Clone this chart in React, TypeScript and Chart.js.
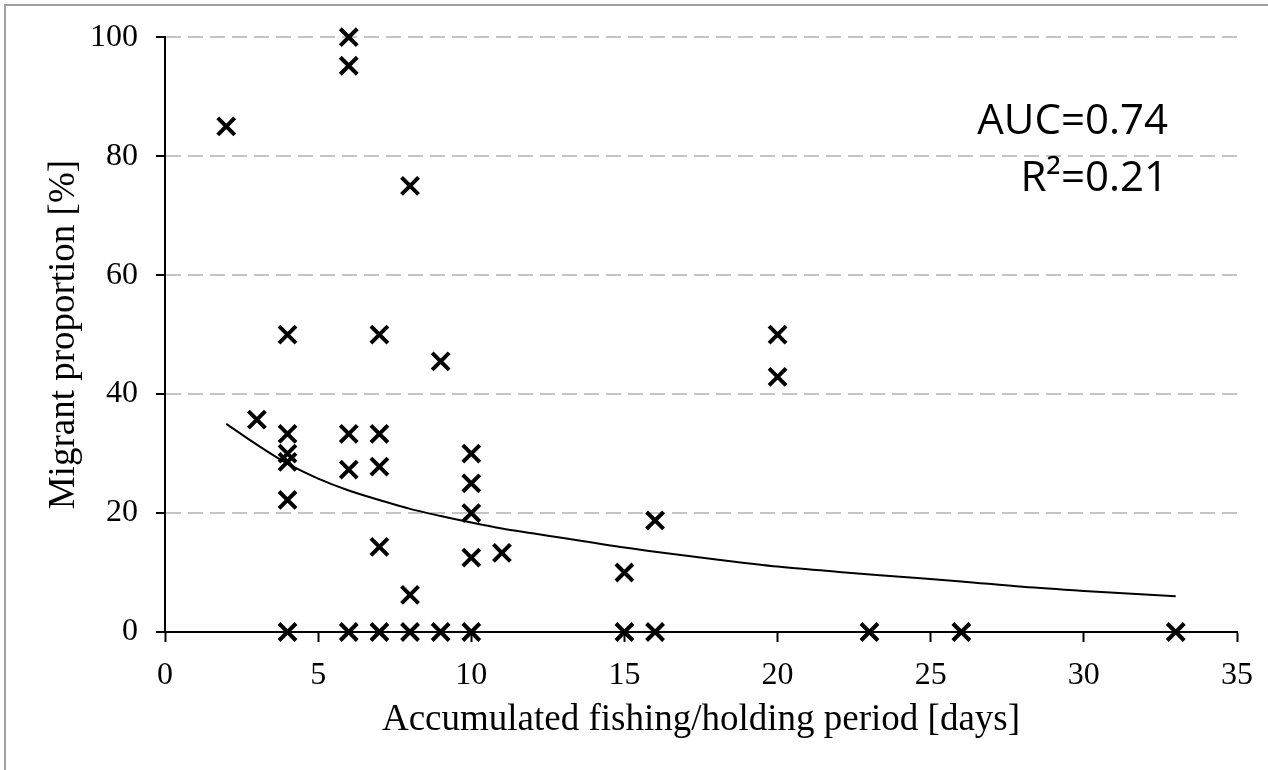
import { useEffect, useRef } from "react";
import { Chart, registerables } from "chart.js";

Chart.register(...registerables);

// ---- data ----
const xTickValues = [0, 5, 10, 15, 20, 25, 30, 35];
const yTickValues = [0, 20, 40, 60, 80, 100];

const obsDays = [
  2, 3, 4, 4, 4, 4, 4, 4, 6, 6, 6, 6, 6, 7, 7, 7, 7, 7, 8, 8, 8, 9, 9, 10, 10, 10, 10, 10, 11, 15, 15,
  16, 16, 20, 20, 23, 26, 33,
];
const obsMigrant = [
  85, 35.7, 50, 33.3, 30, 28.6, 22.2, 0, 100, 95.2, 33.3, 27.3, 0, 50, 33.3, 27.8, 14.3, 0, 75, 6.25, 0,
  45.5, 0, 30, 25, 20, 12.5, 0, 13.3, 10, 0, 18.75, 0, 50, 42.9, 0, 0, 0,
];

const fitDays = [2, 3, 4, 5, 6, 7, 8, 9, 10, 11, 12, 13, 14, 15, 16, 18, 20, 22, 24, 26, 28, 30, 33];
const fitMigrant = [
  35, 31.5, 28.3, 25.8, 23.8, 22.2, 20.7, 19.5, 18.4, 17.4, 16.6, 15.8, 15.0, 14.2, 13.5, 12.2, 11.0,
  10.1, 9.3, 8.5, 7.6, 6.9, 6.0,
];

const statLines = ["AUC=0.74", "R\u00B2=0.21"];
const xTitle = "Accumulated fishing/holding period [days]";
const yTitle = "Migrant proportion [%]";

const SERIF = '"Liberation Serif", "Times New Roman", serif';
const SANS = '"Open Sans", "Noto Sans", sans-serif';

const framePlugin = {
  id: "frame",
  beforeDraw(chart: any) {
    const ctx = chart.ctx;
    ctx.save();
    ctx.fillStyle = "#ffffff";
    ctx.fillRect(0, 0, chart.width, chart.height);
    ctx.strokeStyle = "#a0a0a0";
    ctx.lineWidth = 2;
    ctx.beginPath();
    ctx.moveTo(5, chart.height);
    ctx.lineTo(5, 5);
    ctx.lineTo(chart.width, 5);
    ctx.stroke();
    ctx.restore();
  },
  afterDraw(chart: any) {
    const ctx = chart.ctx;
    ctx.save();
    ctx.fillStyle = "#000000";
    ctx.font = `42px ${SANS}`;
    ctx.textAlign = "right";
    ctx.textBaseline = "alphabetic";
    const x = 1168;
    const baselines = [134, 191];
    statLines.forEach((t, i) => ctx.fillText(t, x, baselines[i]));
    ctx.restore();
  },
};

export default function App() {
  const ref = useRef<HTMLCanvasElement | null>(null);

  useEffect(() => {
    if (!ref.current) return;
    const chart = new Chart(ref.current, {
      type: "scatter",
      data: {
        datasets: [
          {
            label: "Observed",
            data: obsDays.map((d, i) => ({ x: d, y: obsMigrant[i] })),
            pointStyle: "crossRot",
            pointRadius: 12,
            pointHoverRadius: 12,
            borderColor: "#000000",
            backgroundColor: "#000000",
            pointBorderWidth: 4,
            borderWidth: 4,
            showLine: false,
            clip: false,
          } as any,
          {
            label: "Fit",
            data: fitDays.map((d, i) => ({ x: d, y: fitMigrant[i] })),
            showLine: true,
            pointRadius: 0,
            pointHoverRadius: 0,
            borderColor: "#000000",
            borderWidth: 2,
            cubicInterpolationMode: "monotone",
            fill: false,
          } as any,
        ],
      },
      options: {
        responsive: false,
        animation: false,
        events: [],
        layout: { padding: { left: 0, top: 35, right: 31, bottom: 0 } },
        plugins: {
          legend: { display: false },
          tooltip: { enabled: false },
        },
        scales: {
          x: {
            type: "linear",
            min: 0,
            max: 35,
            afterBuildTicks: (s: any) => {
              s.ticks = xTickValues.map((v) => ({ value: v }));
            },
            afterFit: (s: any) => {
              s.height = 138;
            },
            ticks: {
              color: "#000000",
              font: { family: SERIF, size: 32 },
              padding: 14,
              maxRotation: 0,
              autoSkip: false,
            },
            grid: {
              display: true,
              drawOnChartArea: false,
              drawTicks: true,
              tickLength: 10,
              tickColor: "#000000",
              tickWidth: 2,
            },
            border: { display: true, color: "#000000", width: 2 },
            title: {
              display: true,
              text: xTitle,
              color: "#000000",
              font: { family: SERIF, size: 37 },
              padding: { top: 0, bottom: 28 },
            },
          },
          y: {
            type: "linear",
            min: 0,
            max: 100,
            afterBuildTicks: (s: any) => {
              s.ticks = yTickValues.map((v) => ({ value: v }));
            },
            afterFit: (s: any) => {
              s.width = 165;
            },
            ticks: {
              color: "#000000",
              font: { family: SERIF, size: 32 },
              padding: 18,
              autoSkip: false,
            },
            grid: {
              display: true,
              drawOnChartArea: true,
              drawTicks: true,
              tickLength: 9,
              tickColor: "#000000",
              tickWidth: 2,
              tickBorderDash: [],
              lineWidth: 2,
              color: (c: any) => (c.tick && c.tick.value === 0 ? "rgba(0,0,0,0)" : "#c4c4c4"),
            },
            border: { display: true, color: "#000000", width: 2, dash: [15, 7] },
            title: {
              display: true,
              text: yTitle,
              color: "#000000",
              font: { family: SERIF, size: 37 },
              padding: { top: 42, bottom: 0 },
            },
          },
        },
      },
      plugins: [framePlugin],
    });
    return () => chart.destroy();
  }, []);

  return (
    <div style={{ position: "fixed", left: 0, top: 0, width: 1268, height: 770, background: "#fff" }}>
      <canvas ref={ref} width={1268} height={770} style={{ display: "block" }} />
    </div>
  );
}
